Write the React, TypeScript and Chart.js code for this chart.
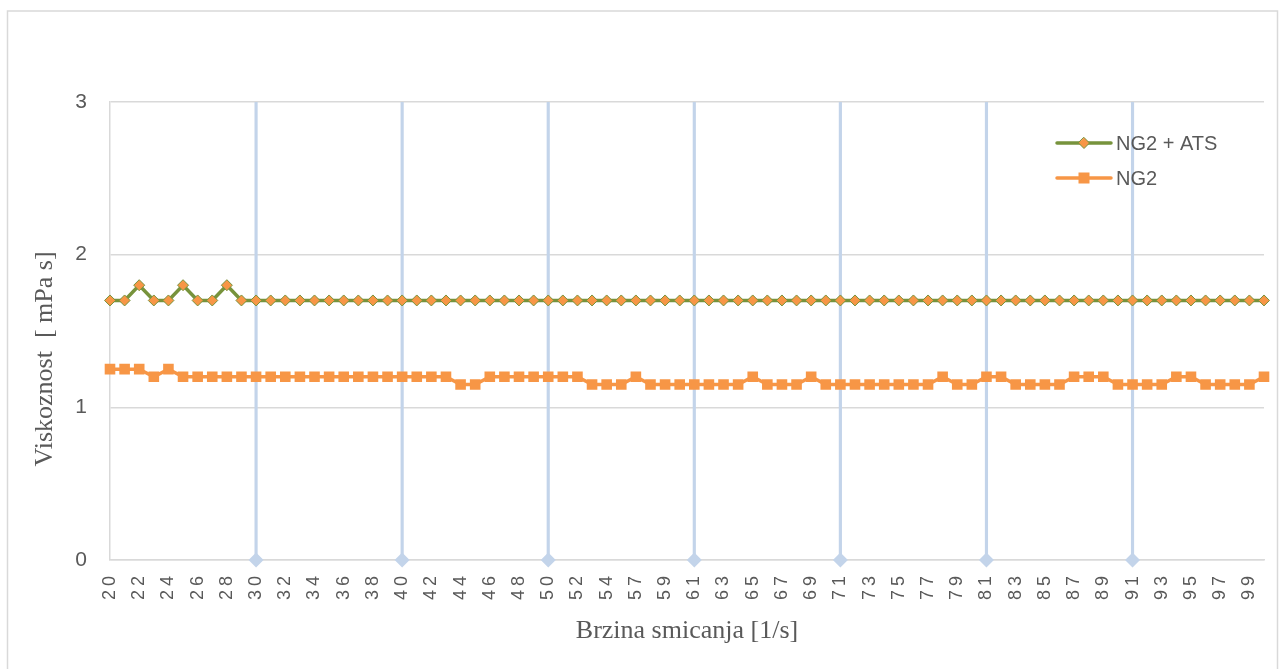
import { useEffect, useRef } from "react";
import { Chart, registerables } from "chart.js";

Chart.register(...registerables);

const shearRates = [
  20, 21, 22, 23, 24, 25, 26, 27, 28, 29,
  30, 31, 32, 33, 34, 35, 36, 37, 38, 39,
  40, 41, 42, 43, 44, 45, 46, 47, 48, 49,
  50, 51, 52, 53, 54, 55, 57, 58, 59, 60,
  61, 62, 63, 64, 65, 66, 67, 68, 69, 70,
  71, 72, 73, 74, 75, 76, 77, 78, 79, 80,
  81, 82, 83, 84, 85, 86, 87, 88, 89, 90,
  91, 92, 93, 94, 95, 96, 97, 98, 99, 100,
];

const ng2Ats = [
  1.7, 1.7, 1.8, 1.7, 1.7, 1.8, 1.7, 1.7, 1.8, 1.7,
  1.7, 1.7, 1.7, 1.7, 1.7, 1.7, 1.7, 1.7, 1.7, 1.7,
  1.7, 1.7, 1.7, 1.7, 1.7, 1.7, 1.7, 1.7, 1.7, 1.7,
  1.7, 1.7, 1.7, 1.7, 1.7, 1.7, 1.7, 1.7, 1.7, 1.7,
  1.7, 1.7, 1.7, 1.7, 1.7, 1.7, 1.7, 1.7, 1.7, 1.7,
  1.7, 1.7, 1.7, 1.7, 1.7, 1.7, 1.7, 1.7, 1.7, 1.7,
  1.7, 1.7, 1.7, 1.7, 1.7, 1.7, 1.7, 1.7, 1.7, 1.7,
  1.7, 1.7, 1.7, 1.7, 1.7, 1.7, 1.7, 1.7, 1.7, 1.7,
];

const ng2 = [
  1.25, 1.25, 1.25, 1.2, 1.25, 1.2, 1.2, 1.2, 1.2, 1.2,
  1.2, 1.2, 1.2, 1.2, 1.2, 1.2, 1.2, 1.2, 1.2, 1.2,
  1.2, 1.2, 1.2, 1.2, 1.15, 1.15, 1.2, 1.2, 1.2, 1.2,
  1.2, 1.2, 1.2, 1.15, 1.15, 1.15, 1.2, 1.15, 1.15, 1.15,
  1.15, 1.15, 1.15, 1.15, 1.2, 1.15, 1.15, 1.15, 1.2, 1.15,
  1.15, 1.15, 1.15, 1.15, 1.15, 1.15, 1.15, 1.2, 1.15, 1.15,
  1.2, 1.2, 1.15, 1.15, 1.15, 1.15, 1.2, 1.2, 1.2, 1.15,
  1.15, 1.15, 1.15, 1.2, 1.2, 1.15, 1.15, 1.15, 1.15, 1.2,
];

// categories carrying the light-blue reference markers (value 0) with drop lines
const refCategories = [30, 40, 50, 61, 71, 81, 91];

const yMin = 0;
const yMax = 3;
const yStep = 1;

const seriesNames = ["NG2 + ATS", "NG2"];
const xTitle = "Brzina smicanja [1/s]";
const yTitle = "Viskoznost  [ mPa s]";

const GREEN = "#77933C";
const ORANGE = "#F79646";
const REF_BLUE = "#C3D4EA";
const GRID = "#D9D9D9";
const TEXT = "#595959";

const decorPlugin = {
  id: "decor",
  beforeDraw(chart: any) {
    const ctx = chart.ctx;
    ctx.save();
    ctx.fillStyle = "#ffffff";
    ctx.fillRect(0, 0, chart.width, chart.height);
    ctx.strokeStyle = GRID;
    ctx.lineWidth = 1.5;
    ctx.strokeRect(7.5, 11, 1270, 670);
    ctx.restore();
    // Excel-like wide spacing of the rotated category labels
    ctx.letterSpacing = "4px";
  },
  beforeDatasetsDraw(chart: any) {
    chart.ctx.letterSpacing = "0px";
  },
  afterDraw(chart: any) {
    const ctx = chart.ctx;
    const area = chart.chartArea;
    ctx.save();
    ctx.letterSpacing = "0px";
    // axis titles
    ctx.fillStyle = TEXT;
    ctx.font = '26px "Liberation Serif"';
    ctx.textAlign = "center";
    ctx.textBaseline = "middle";
    ctx.fillText(xTitle, (area.left + area.right) / 2, 631);
    ctx.save();
    ctx.translate(45, 359);
    ctx.rotate(-Math.PI / 2);
    ctx.fillText(yTitle, 0, 0);
    ctx.restore();

    // legend
    const styles = [
      { color: GREEN, marker: "diamond" },
      { color: ORANGE, marker: "square" },
    ];
    const x0 = 1057;
    const x1 = 1111;
    const ys = [143, 178];
    styles.forEach((s, i) => {
      const y = ys[i];
      ctx.strokeStyle = s.color;
      ctx.lineWidth = 3.5;
      ctx.lineCap = "round";
      ctx.beginPath();
      ctx.moveTo(x0, y);
      ctx.lineTo(x1, y);
      ctx.stroke();
      const cx = (x0 + x1) / 2;
      if (s.marker === "diamond") {
        ctx.beginPath();
        ctx.moveTo(cx, y - 5.5);
        ctx.lineTo(cx + 5.5, y);
        ctx.lineTo(cx, y + 5.5);
        ctx.lineTo(cx - 5.5, y);
        ctx.closePath();
        ctx.fillStyle = ORANGE;
        ctx.fill();
        ctx.lineWidth = 1;
        ctx.strokeStyle = GREEN;
        ctx.stroke();
      } else {
        ctx.fillStyle = ORANGE;
        ctx.fillRect(cx - 5.5, y - 5.5, 11, 11);
      }
      ctx.fillStyle = TEXT;
      ctx.font = '20px "Liberation Sans"';
      ctx.textAlign = "left";
      ctx.textBaseline = "middle";
      ctx.fillText(seriesNames[i], 1116, y + 1);
    });
    ctx.restore();
  },
};

export default function App() {
  const canvasRef = useRef<HTMLCanvasElement | null>(null);

  useEffect(() => {
    const canvas = canvasRef.current;
    if (!canvas) return;
    const refMarkers = shearRates.map((c) => (refCategories.includes(c) ? 0 : null));
    const refDrops = shearRates.map((c) => (refCategories.includes(c) ? yMax : null));

    const chart = new Chart(canvas, {
      type: "line",
      data: {
        labels: shearRates.map(String),
        datasets: [
          {
            label: seriesNames[0],
            data: ng2Ats,
            borderColor: GREEN,
            borderWidth: 3.5,
            backgroundColor: ORANGE,
            pointStyle: "rectRot",
            pointRadius: 5.5,
            pointBorderColor: GREEN,
            pointBorderWidth: 1,
            pointBackgroundColor: ORANGE,
            tension: 0,
            order: 1,
          },
          {
            label: seriesNames[1],
            data: ng2,
            borderColor: ORANGE,
            borderWidth: 3.5,
            backgroundColor: ORANGE,
            pointStyle: "rect",
            pointRadius: 7.5,
            pointBorderWidth: 0,
            pointBackgroundColor: ORANGE,
            tension: 0,
            order: 2,
          },
          {
            label: "ref",
            data: refMarkers,
            showLine: false,
            pointStyle: "rectRot",
            pointRadius: 7.5,
            pointBorderWidth: 0,
            pointBackgroundColor: REF_BLUE,
            borderColor: REF_BLUE,
            clip: false,
            order: 3,
          } as any,
          {
            type: "bar",
            label: "drop",
            data: refDrops,
            backgroundColor: REF_BLUE,
            barThickness: 2.5,
            order: 4,
          } as any,
        ],
      },
      options: {
        animation: false,
        responsive: false,
        maintainAspectRatio: false,
        layout: { padding: { left: 0, right: 16, top: 102, bottom: 0 } },
        plugins: {
          legend: { display: false },
          tooltip: { enabled: false },
        },
        scales: {
          x: {
            type: "category",
            offset: false,
            grid: { display: false, drawTicks: false },
            border: { display: true, color: GRID, width: 1.5 },
            ticks: {
              autoSkip: false,
              minRotation: 90,
              maxRotation: 90,
              padding: 12,
              color: TEXT,
              font: { family: "Liberation Sans", size: 18 },
              callback: function (this: any, value: any, index: number) {
                return index % 2 === 0 ? this.getLabelForValue(value) : "";
              },
            },
            afterFit: (scale: any) => {
              scale.height = 109;
              scale.paddingLeft = 0;
              scale.paddingRight = 0;
            },
          },
          y: {
            min: yMin,
            max: yMax,
            grid: { color: GRID, lineWidth: 1.5, drawTicks: false },
            border: { display: true, color: GRID, width: 1.5 },
            ticks: {
              stepSize: yStep,
              padding: 19,
              color: TEXT,
              font: { family: "Liberation Sans", size: 21 },
            },
            afterFit: (scale: any) => {
              scale.width = 110;
              scale.paddingTop = 0;
              scale.paddingBottom = 0;
            },
          },
        },
      },
      plugins: [decorPlugin],
    });
    return () => chart.destroy();
  }, []);

  return (
    <div style={{ position: "fixed", left: 0, top: 0, width: 1280, height: 669, background: "#fff" }}>
      <canvas ref={canvasRef} width={1280} height={669} style={{ width: 1280, height: 669, display: "block" }} />
    </div>
  );
}
